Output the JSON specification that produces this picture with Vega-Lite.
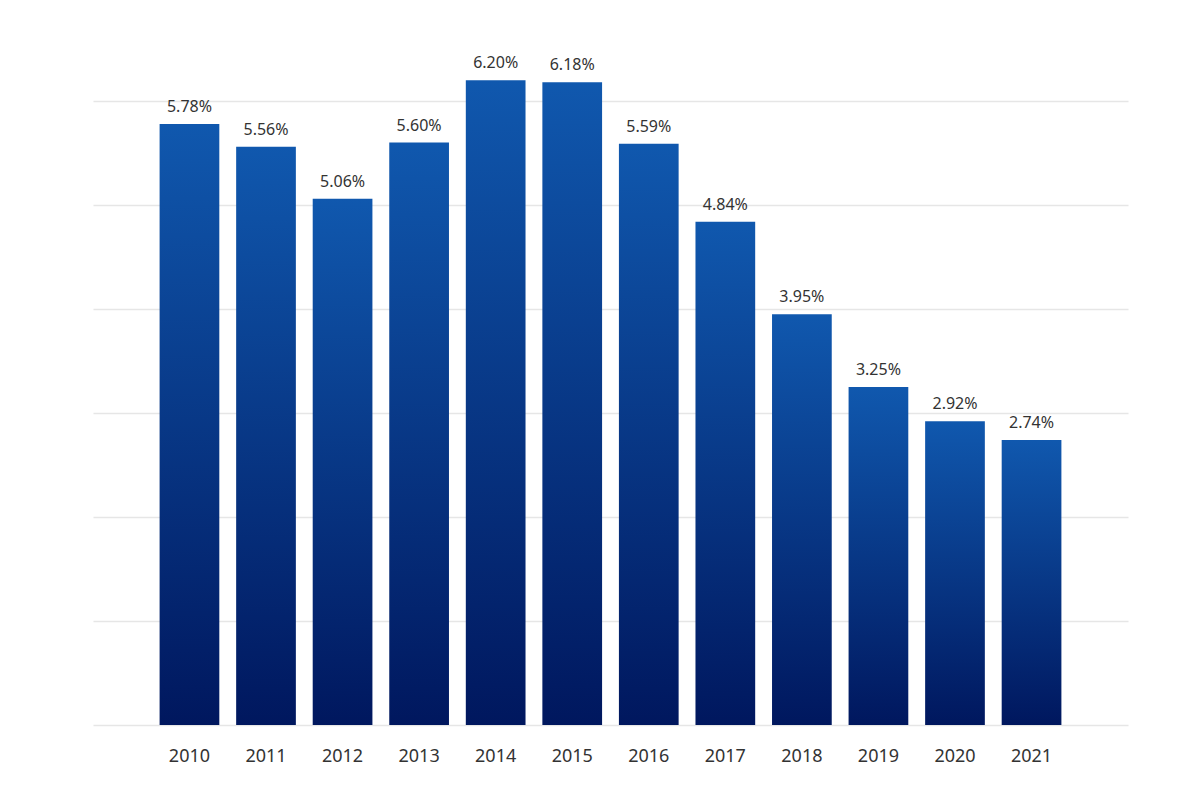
{
  "$schema": "https://vega.github.io/schema/vega-lite/v6.json",
  "autosize": "none",
  "width": 1035,
  "height": 676,
  "padding": {"left": 93, "top": 49, "right": 72, "bottom": 75},
  "background": "white",
  "data": {
    "values": [
      {"year": "2010", "rate": 5.78},
      {"year": "2011", "rate": 5.56},
      {"year": "2012", "rate": 5.06},
      {"year": "2013", "rate": 5.60},
      {"year": "2014", "rate": 6.20},
      {"year": "2015", "rate": 6.18},
      {"year": "2016", "rate": 5.59},
      {"year": "2017", "rate": 4.84},
      {"year": "2018", "rate": 3.95},
      {"year": "2019", "rate": 3.25},
      {"year": "2020", "rate": 2.92},
      {"year": "2021", "rate": 2.74}
    ]
  },
  "encoding": {
    "x": {
      "field": "year",
      "type": "ordinal",
      "scale": {"paddingInner": 0.22, "paddingOuter": 0.87},
      "axis": {
        "title": null,
        "domain": false,
        "ticks": false,
        "labelAngle": 0,
        "labelFont": "Noto Sans",
        "labelFontSize": 18,
        "labelColor": "#333333",
        "labelPadding": 22
      }
    },
    "y": {
      "field": "rate",
      "type": "quantitative",
      "scale": {"domain": [0, 6.5], "nice": false},
      "axis": {
        "title": null,
        "labels": false,
        "ticks": false,
        "domain": false,
        "values": [0, 1, 2, 3, 4, 5, 6],
        "grid": true,
        "gridColor": "#e6e6e6",
        "gridWidth": 1.5
      }
    }
  },
  "layer": [
    {
      "mark": {
        "type": "bar",
        "color": {
          "gradient": "linear",
          "x1": 0, "y1": 0, "x2": 0, "y2": 1,
          "stops": [
            {"offset": 0, "color": "#1058ae"},
            {"offset": 1, "color": "#00175e"}
          ]
        }
      }
    },
    {
      "mark": {
        "type": "text",
        "baseline": "bottom",
        "dy": -9,
        "font": "Noto Sans",
        "fontSize": 16,
        "color": "#333333",
        "text": {"expr": "format(datum.rate, '.2f') + '%'"}
      }
    }
  ],
  "config": {
    "view": {"stroke": null}
  }
}
